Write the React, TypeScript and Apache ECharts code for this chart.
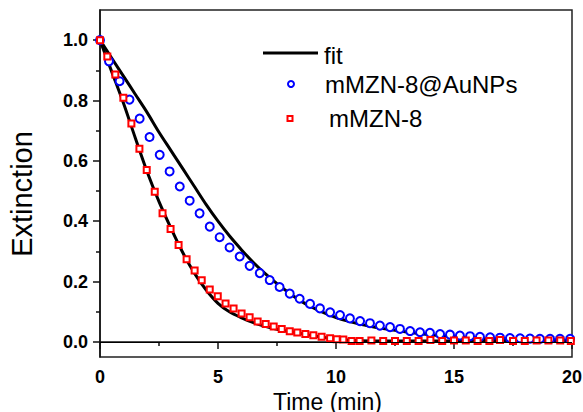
import React, { useEffect, useRef } from "react";
import * as echarts from "echarts";

// mMZN-8@AuNPs measured points [time (min), extinction]
const auNPsPoints: [number, number][] = [
  [0, 1.0], [0.38, 0.93], [0.83, 0.864], [1.25, 0.803], [1.68, 0.74], [2.1, 0.679],
  [2.53, 0.62], [2.95, 0.565], [3.38, 0.515], [3.8, 0.468], [4.22, 0.426], [4.65, 0.382],
  [5.07, 0.347], [5.49, 0.313], [5.92, 0.283], [6.34, 0.252], [6.77, 0.228], [7.19, 0.205],
  [7.61, 0.182], [8.04, 0.16], [8.46, 0.143], [8.9, 0.126], [9.32, 0.111], [9.75, 0.098],
  [10.17, 0.089], [10.59, 0.078], [11.02, 0.069], [11.44, 0.062], [11.86, 0.054], [12.29, 0.049],
  [12.71, 0.043], [13.14, 0.036], [13.56, 0.032], [13.98, 0.03], [14.41, 0.026], [14.83, 0.024],
  [15.25, 0.021], [15.68, 0.019], [16.1, 0.017], [16.53, 0.015], [16.95, 0.014], [17.37, 0.013],
  [17.8, 0.012], [18.22, 0.011], [18.64, 0.01], [19.07, 0.01], [19.49, 0.01], [19.92, 0.01],
];

// mMZN-8 measured points
const mzn8Points: [number, number][] = [
  [0, 1.0], [0.31, 0.946], [0.65, 0.886], [0.99, 0.809], [1.33, 0.724], [1.67, 0.64],
  [1.98, 0.57], [2.32, 0.498], [2.65, 0.426], [2.99, 0.374], [3.33, 0.321], [3.67, 0.274],
  [4.01, 0.237], [4.31, 0.204], [4.65, 0.174], [4.99, 0.151], [5.32, 0.127], [5.66, 0.111],
  [6.0, 0.094], [6.34, 0.082], [6.68, 0.068], [7.02, 0.059], [7.36, 0.051], [7.7, 0.043],
  [8.04, 0.035], [8.36, 0.031], [8.7, 0.026], [9.04, 0.022], [9.39, 0.017], [9.75, 0.012],
  [10.03, 0.009], [10.31, 0.008], [10.66, 0.003], [11.0, 0.003], [11.5, 0.005], [12.0, 0.003],
  [12.5, 0.003], [13.0, 0.003], [13.5, 0.003], [14.0, 0.006], [14.5, 0.003], [15.0, 0.005],
  [15.5, 0.005], [16.0, 0.003], [16.5, 0.003], [16.95, 0.006], [17.5, 0.003], [18.0, 0.003],
  [18.5, 0.005], [19.0, 0.005], [19.5, 0.005], [19.95, 0.003],
];

// fit curves
const fitAuNPs: [number, number][] = [
  [0, 1.0], [0.5, 0.94], [1.0, 0.88], [1.5, 0.82], [2.0, 0.76], [2.5, 0.695], [3.0, 0.635],
  [3.5, 0.575], [4.0, 0.515], [4.5, 0.455], [5.0, 0.4], [5.5, 0.35], [6.0, 0.305], [6.5, 0.263],
  [7.0, 0.226], [7.5, 0.193], [8.0, 0.163], [8.5, 0.136], [9.0, 0.114], [9.5, 0.096], [10.0, 0.081],
  [10.5, 0.069], [11.0, 0.059], [11.5, 0.051], [12.0, 0.044], [13.0, 0.033], [14.0, 0.024],
  [15.0, 0.017], [16.0, 0.012], [17.0, 0.008], [18.0, 0.006], [19.0, 0.005], [20.0, 0.004],
];
const fitMZN8: [number, number][] = [
  [0, 1.0], [0.5, 0.895], [1.0, 0.79], [1.5, 0.675], [2.0, 0.563], [2.5, 0.465], [3.0, 0.378],
  [3.5, 0.297], [4.0, 0.228], [4.5, 0.172], [5.0, 0.128], [5.5, 0.099], [6.0, 0.08], [6.5, 0.064],
  [7.0, 0.052], [7.5, 0.042], [8.0, 0.035], [8.5, 0.028], [9.0, 0.021], [9.5, 0.015], [10.0, 0.01],
  [10.5, 0.006], [11.0, 0.004], [12.0, 0.003], [14.0, 0.003], [16.0, 0.003], [18.0, 0.003], [20.0, 0.003],
];

const yMajorTicks = [0, 0.2, 0.4, 0.6, 0.8, 1.0];
const yMinorTicks = [0.1, 0.3, 0.5, 0.7, 0.9];

const legendNames = ["fit", "mMZN-8@AuNPs", "mMZN-8"];

const FONT = "'Liberation Sans', Arial, Helvetica, sans-serif";

export default function App() {
  const ref = useRef<HTMLDivElement>(null);

  useEffect(() => {
    if (!ref.current) return;
    const chart = echarts.init(ref.current, undefined, { renderer: "svg" });
    const axisColor = "#111";
    chart.setOption({
      animation: false,
      backgroundColor: "#fff",
      grid: {
        left: 100,
        right: 11,
        top: 10,
        bottom: 55,
        outerBoundsMode: "none",
        containLabel: false,
        show: true,
        borderColor: "#222",
        borderWidth: 1.5,
        backgroundColor: "transparent",
      },
      xAxis: {
        type: "value",
        min: 0,
        max: 20,
        interval: 5,
        name: "Time (min)",
        nameLocation: "middle",
        nameGap: 23,
        nameTextStyle: { fontFamily: FONT, fontSize: 23, color: "#000", padding: [0, 17, 0, 0] },
        axisLine: { show: true, lineStyle: { color: axisColor, width: 1.5 } },
        axisTick: { show: true, inside: false, length: 7, lineStyle: { color: axisColor, width: 1.5 } },
        minorTick: { show: true, splitNumber: 2, length: 4, lineStyle: { color: axisColor, width: 1.5 } },
        axisLabel: { margin: 11, fontFamily: FONT, fontSize: 18, fontWeight: "bold", color: "#000" },
        splitLine: { show: false },
      },
      yAxis: [
        {
          type: "value",
          min: -0.05,
          max: 1.1,
          name: "Extinction",
          nameLocation: "middle",
          nameGap: 64,
          nameTextStyle: { fontFamily: FONT, fontSize: 29, color: "#000", padding: [0, 21, 0, 0] },
          axisLine: { show: true, lineStyle: { color: axisColor, width: 1.5 } },
          axisTick: {
            show: true,
            inside: false,
            length: 7,
            customValues: yMajorTicks,
            lineStyle: { color: axisColor, width: 1.5 },
          },
          axisLabel: {
            margin: 12,
            customValues: yMajorTicks,
            fontFamily: FONT,
            fontSize: 18,
            fontWeight: "bold",
            color: "#000",
            formatter: (v: number) => v.toFixed(1),
          },
          splitLine: { show: false },
        },
        {
          type: "value",
          min: -0.05,
          max: 1.1,
          position: "left",
          axisLine: { show: false },
          axisTick: {
            show: true,
            inside: false,
            length: 4,
            customValues: yMinorTicks,
            lineStyle: { color: axisColor, width: 1.5 },
          },
          axisLabel: { show: false, customValues: yMinorTicks },
          splitLine: { show: false },
        },
      ],
      series: [
        {
          name: legendNames[0],
          type: "line",
          data: fitAuNPs,
          smooth: 0.3,
          showSymbol: false,
          symbol: "none",
          lineStyle: { color: "#000", width: 3 },
          z: 2,
          markLine: {
            silent: true,
            symbol: "none",
            label: { show: false },
            lineStyle: { color: "#000", width: 1, type: "solid" },
            data: [{ yAxis: 0 }],
          },
        },
        {
          name: legendNames[0],
          type: "line",
          data: fitMZN8,
          smooth: 0.3,
          showSymbol: false,
          symbol: "none",
          lineStyle: { color: "#000", width: 3 },
          z: 2,
        },
        {
          name: legendNames[1],
          type: "scatter",
          data: auNPsPoints,
          symbol: "circle",
          symbolSize: 8,
          itemStyle: { color: "#fff", borderColor: "#0000ff", borderWidth: 2, opacity: 1 },
          z: 3,
        },
        {
          name: legendNames[2],
          type: "scatter",
          data: mzn8Points,
          symbol: "rect",
          symbolSize: 6,
          itemStyle: { color: "#fff", borderColor: "#ff0000", borderWidth: 2, opacity: 1 },
          z: 4,
        },
      ],
      graphic: [
        { type: "line", shape: { x1: 263, y1: 53, x2: 318, y2: 53 }, style: { stroke: "#000", lineWidth: 3 } },
        {
          type: "text",
          x: 324,
          y: 55,
          style: { text: legendNames[0], font: `24px ${FONT}`, fill: "#000", verticalAlign: "middle", align: "left" },
        },
        { type: "circle", shape: { cx: 291, cy: 84, r: 3 }, style: { fill: "#fff", stroke: "#0000ff", lineWidth: 2 } },
        {
          type: "text",
          x: 325,
          y: 84,
          style: { text: legendNames[1], font: `24px ${FONT}`, fill: "#000", verticalAlign: "middle", align: "left" },
        },
        { type: "rect", shape: { x: 287.5, y: 116, width: 5, height: 5 }, style: { fill: "#fff", stroke: "#ff0000", lineWidth: 2 } },
        {
          type: "text",
          x: 329,
          y: 118,
          style: { text: legendNames[2], font: `24px ${FONT}`, fill: "#000", verticalAlign: "middle", align: "left" },
        },
      ],
    });
    return () => chart.dispose();
  }, []);

  return (
    <div
      ref={ref}
      style={{ position: "absolute", left: 0, top: 0, width: 583, height: 412 }}
    />
  );
}
